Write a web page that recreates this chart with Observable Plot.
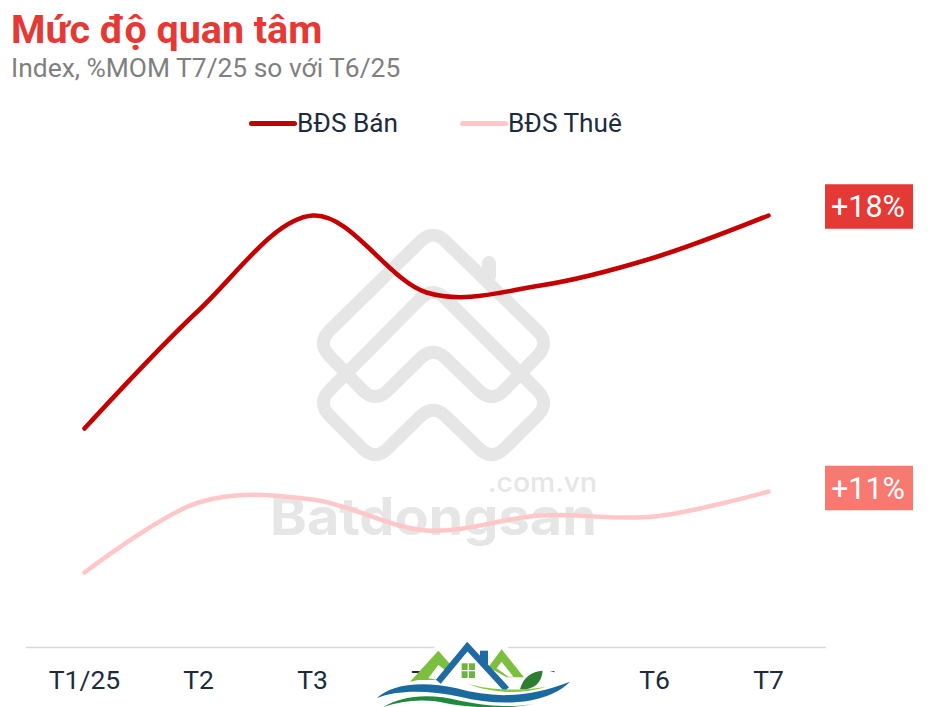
<!DOCTYPE html>
<html lang="vi">
<head>
<meta charset="utf-8">
<script src="https://cdn.jsdelivr.net/npm/d3@7"></script>
<script src="https://cdn.jsdelivr.net/npm/@observablehq/plot@0.6"></script>
<style>
  html, body { margin: 0; padding: 0; background: #fff; width: 940px; height: 707px; overflow: hidden; font-family: Roboto, sans-serif; }
  #header { position: relative; height: 147px; }
  #title { position: absolute; left: 11px; top: 8px; font-size: 39.4px; font-weight: 700; color: #e53935; line-height: 44px; white-space: nowrap; }
  #subtitle { position: absolute; left: 11px; top: 53px; font-size: 26.4px; color: #7f7f7f; line-height: 30px; white-space: nowrap; }
  .lg { position: absolute; top: 108px; font-size: 26.2px; color: #1c2b3d; line-height: 30px; white-space: nowrap; }
  .sw { position: absolute; top: 121px; height: 5px; width: 48px; border-radius: 2.5px; }
  #chart { position: absolute; left: 0; top: 147px; }
  #chart svg { background: transparent !important; display: block; }
  .deco { position: absolute; left: 0; top: 0; pointer-events: none; }
</style>
</head>
<body>
<svg id="watermark" class="deco" width="940" height="707"></svg>
<div id="header">
  <div id="title">Mức độ quan tâm</div>
  <div id="subtitle">Index, %MOM T7/25 so với T6/25</div>
  <div class="sw" style="left:249px;background:#c40000"></div>
  <div class="lg" style="left:297px">BĐS Bán</div>
  <div class="sw" style="left:460px;background:#ffc7c7"></div>
  <div class="lg" style="left:508px">BĐS Thuê</div>
</div>
<div id="chart"></div>
<svg id="stamp" class="deco" width="940" height="707"></svg>
<script>
const months = ["T1/25", "T2", "T3", "T4", "T5", "T6", "T7"];
const banValues = [43.8, 67.4, 86.4, 71.0, 72.4, 78.0, 86.4];
const thueValues = [15.0, 29.0, 29.6, 23.4, 26.4, 26.2, 31.2];
const badgeLabels = ["+18%", "+11%"];
const badgeLevels = [88.2, 31.9];
const badgeColors = ["#e53935", "#f8796f"];

const row = (vals) => months.map((m, i) => ({month: m, value: vals[i]}));
const badges = badgeLabels.map((label, i) => ({month: "T7", label, level: badgeLevels[i], color: badgeColors[i]}));
const smooth = d3.curveCardinal.tension(0);

const plot = Plot.plot({
  width: 940,
  height: 560,
  marginLeft: 26,
  marginRight: 114,
  marginTop: 0,
  marginBottom: 60,
  style: {background: "transparent", fontFamily: "Roboto, sans-serif", overflow: "visible"},
  x: {type: "band", domain: months, padding: 0, align: 0.5, label: null},
  y: {domain: [0, 100], axis: null},
  marks: [
    Plot.ruleY([0], {stroke: "#d9d9d9", strokeWidth: 1.5}),
    Plot.axisX({tickSize: 0, tickPadding: 23, fontSize: 26.5, fill: "#1c2b3d", label: null}),
    Plot.line(row(thueValues), {x: "month", y: "value", curve: smooth, stroke: "#ffc7c7", strokeWidth: 4.5, strokeLinecap: "round"}),
    Plot.line(row(banValues), {x: "month", y: "value", curve: smooth, stroke: "#c40000", strokeWidth: 4.5, strokeLinecap: "round"}),
    Plot.tickY(badges, {x: "month", y: "level", stroke: "color", strokeWidth: 44.5, dx: 100, insetLeft: 14, insetRight: 12}),
    Plot.text(badges, {x: "month", y: "level", text: "label", fill: "#fff", fontSize: 30.5, dx: 99.5, dy: 1})
  ]
});
document.getElementById("chart").append(plot);

// Background watermark
const ns = "http://www.w3.org/2000/svg";
function add(svg, tag, attrs, text) {
  const el = document.createElementNS(ns, tag);
  for (const k in attrs) el.setAttribute(k, attrs[k]);
  if (text) el.textContent = text;
  svg.append(el);
  return el;
}
function rounded(pts, r) {
  const n = pts.length;
  let d = "";
  pts.forEach((p, i) => {
    const a = pts[(i - 1 + n) % n], b = pts[(i + 1) % n];
    const la = Math.hypot(a[0] - p[0], a[1] - p[1]), lb = Math.hypot(b[0] - p[0], b[1] - p[1]);
    const ra = Math.min(r, la / 2), rb = Math.min(r, lb / 2);
    const s = [p[0] + (a[0] - p[0]) * ra / la, p[1] + (a[1] - p[1]) * ra / la];
    const e = [p[0] + (b[0] - p[0]) * rb / lb, p[1] + (b[1] - p[1]) * rb / lb];
    d += (i ? "L" : "M") + s.join(",") + "Q" + p.join(",") + " " + e.join(",");
  });
  return d + "Z";
}
const wm = document.getElementById("watermark");
const wmStroke = {fill: "none", stroke: "#e6e6e6", "stroke-width": 13};
const upper = [[433,229],[317,343],[375,403],[433,346],[492,403],[550,343]];
const lower = [[433,286],[317,403],[375,461],[433,404],[492,461],[550,403]];
add(wm, "path", {d: rounded(upper, 18), ...wmStroke});
add(wm, "path", {d: rounded(lower, 18), ...wmStroke});
add(wm, "path", {d: "M489,276V263", stroke: "#e6e6e6", "stroke-width": 14, "stroke-linecap": "round"});
add(wm, "text", {x: 270, y: 535, "font-family": "Inter, sans-serif", "font-weight": 700, "font-size": 52, fill: "#e6e6e6", textLength: 327, lengthAdjust: "spacingAndGlyphs"}, "Batdongsan");
add(wm, "text", {x: 488, y: 492, "font-family": "Inter, sans-serif", "font-weight": 500, "font-size": 27, fill: "#e6e6e6", textLength: 109, lengthAdjust: "spacingAndGlyphs"}, ".com.vn");

// Foreground stamp at the foot of the picture
const st = document.getElementById("stamp");
const g = add(st, "g", {transform: "translate(360,630) scale(0.3333)"});
add(g, "path", {d: "M175,135L230,40L330,30L430,40L510,110L580,125L640,160V231H40L60,180Z", fill: "#fff"});
add(g, "path", {d: "M150,155L235,62L270,102L240,150H175Z", fill: "#7cbf3f"});
add(g, "path", {d: "M385,112L425,58L492,142H440Z", fill: "#7cbf3f"});
add(g, "path", {d: "M205,145L235,105L262,125L235,150Z", fill: "#fff"});
add(g, "path", {d: "M410,115L425,95L460,140H445Z", fill: "#fff"});
add(g, "path", {d: "M235,155L322,50L440,178", fill: "none", stroke: "#1f6aa5", "stroke-width": 19});
add(g, "rect", {x: 360, y: 62, width: 24, height: 40, fill: "#1f6aa5"});
add(g, "rect", {x: 305, y: 100, width: 40, height: 44, fill: "#6cb33f"});
add(g, "path", {d: "M325,100V144M305,122H345", stroke: "#fff", "stroke-width": 4});
add(g, "path", {d: "M50,205C90,165 180,150 290,175C400,205 500,205 630,155C560,225 420,230 300,200C200,180 110,180 50,205Z", fill: "#1a6aa0"});
add(g, "path", {d: "M70,231C130,195 210,190 300,212C400,232 470,231 520,222C430,240 330,231 270,222C200,205 130,210 70,231Z", fill: "#1f8a3c"});
add(g, "path", {d: "M320,160C380,180 470,185 560,170C480,195 390,190 320,160Z", fill: "#8cc63f"});
add(g, "path", {d: "M480,178C490,140 515,125 548,122C545,160 520,180 480,178Z", fill: "#2e7d32"});
</script>
</body>
</html>
